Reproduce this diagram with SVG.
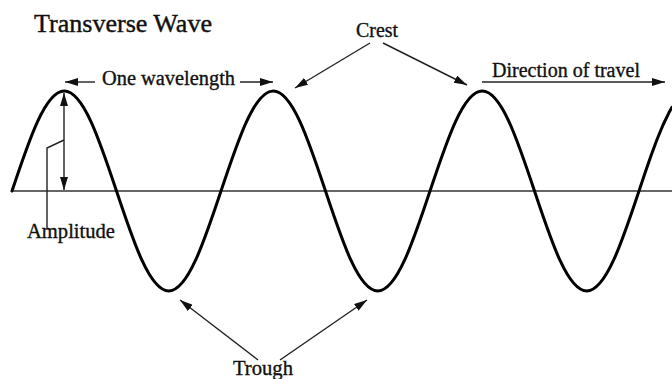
<svg xmlns="http://www.w3.org/2000/svg" width="672" height="379" viewBox="0 0 672 379">
  <style>
    text { font-family: "Liberation Serif", "Times New Roman", serif; fill: #111; stroke: #111; stroke-width: 0.35px; font-size: 20px; }
    .title { font-size: 25px; stroke-width: 0.4px; }
    .conn { stroke: #222; stroke-width: 1.4; fill: none; }
    .wave { stroke: #000; stroke-width: 3; fill: none; stroke-linejoin: round; stroke-linecap: round; }
    .axis { stroke: #333; stroke-width: 1.6; fill: none; }
  </style>
  <defs>
    <marker id="ah" viewBox="0 0 13 8" refX="13" refY="4" markerWidth="13" markerHeight="8" markerUnits="userSpaceOnUse" orient="auto-start-reverse">
      <path d="M0,0 L13,4 L0,8 Z" fill="#111"/>
    </marker>
  </defs>
  <rect width="672" height="379" fill="#fff"/>

  <g id="title">
    <text class="title" x="34" y="32" textLength="178" lengthAdjust="spacingAndGlyphs">Transverse Wave</text>
  </g>

  <g id="axis">
    <line class="axis" x1="12" y1="191" x2="672" y2="191"/>
  </g>

  <g id="wave">
    <path class="wave" d="M12,191
      c17.04,-51.23 33.34,-100 52.25,-100
      c18.91,0 35.21,48.77 52.25,100
      c17.04,51.23 33.34,100 52.25,100
      c18.91,0 35.21,-48.77 52.25,-100
      c17.04,-51.23 33.34,-100 52.25,-100
      c18.91,0 35.21,48.77 52.25,100
      c17.04,51.23 33.34,100 52.25,100
      c18.91,0 35.21,-48.77 52.25,-100
      c17.04,-51.23 33.34,-100 52.25,-100
      c18.91,0 35.21,48.77 52.25,100
      c17.04,51.23 33.34,100 52.25,100
      c18.91,0 35.21,-48.77 52.25,-100
      L645,173.1 L651,155.7 L657,139.5 L663,125 L669,112.6 L672,107.3"/>
  </g>

  <g id="label-wavelength">
    <text x="102" y="85" textLength="133" lengthAdjust="spacingAndGlyphs">One wavelength</text>
  </g>
  <g id="label-crest">
    <text x="356" y="37" textLength="42" lengthAdjust="spacingAndGlyphs">Crest</text>
  </g>
  <g id="label-direction">
    <text x="492" y="77" textLength="148" lengthAdjust="spacingAndGlyphs">Direction of travel</text>
  </g>
  <g id="label-amplitude">
    <text x="27" y="238" textLength="88" lengthAdjust="spacingAndGlyphs">Amplitude</text>
  </g>
  <g id="label-trough">
    <text x="233" y="375" textLength="60" lengthAdjust="spacingAndGlyphs">Trough</text>
  </g>

  <g id="connectors">
    <line class="conn" x1="95" y1="82" x2="65" y2="82" marker-end="url(#ah)"/>
    <line class="conn" x1="240" y1="82" x2="273" y2="82" marker-end="url(#ah)"/>
    <line class="conn" x1="64" y1="93" x2="64" y2="190" marker-start="url(#ah)" marker-end="url(#ah)"/>
    <polyline class="conn" points="64,140 47,148 47,228"/>
    <line class="conn" x1="370" y1="43" x2="295" y2="88" marker-end="url(#ah)"/>
    <line class="conn" x1="383" y1="43" x2="467" y2="85" marker-end="url(#ah)"/>
    <line class="conn" stroke-width="2" x1="482" y1="82" x2="665" y2="82" marker-end="url(#ah)"/>
    <line class="conn" x1="258" y1="360" x2="180" y2="300" marker-end="url(#ah)"/>
    <line class="conn" x1="280" y1="360" x2="367" y2="300" marker-end="url(#ah)"/>
  </g>
</svg>
